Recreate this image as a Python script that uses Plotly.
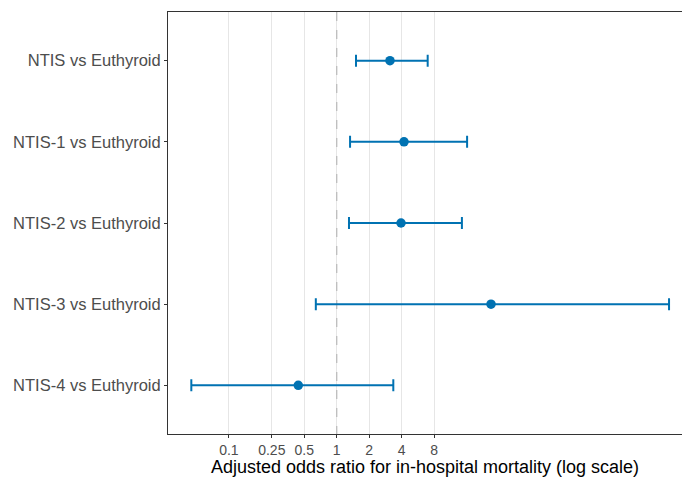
import plotly.graph_objects as go

comparisons = ["NTIS vs Euthyroid", "NTIS-1 vs Euthyroid", "NTIS-2 vs Euthyroid",
               "NTIS-3 vs Euthyroid", "NTIS-4 vs Euthyroid"]
odds_ratio = [3.12, 4.21, 3.95, 27.0, 0.44]
ci_low = [1.51, 1.33, 1.30, 0.64, 0.0448]
ci_high = [6.98, 16.2, 14.5, 1210.0, 3.35]
tick_vals = [0.1, 0.25, 0.5, 1, 2, 4, 8]
tick_text = ["0.1", "0.25", "0.5", "1", "2", "4", "8"]

ypos = list(range(1, len(comparisons) + 1))
color = "#0072B2"

fig = go.Figure()
# reference line at OR = 1
fig.add_trace(go.Scatter(x=[1, 1], y=[0.4, 5.6], mode="lines",
                         line=dict(color="#BDBDBD", width=1.3, dash="dash"),
                         hoverinfo="skip", showlegend=False))
fig.add_trace(go.Scatter(
    x=odds_ratio, y=ypos, mode="markers",
    marker=dict(color=color, size=9.5),
    error_x=dict(type="data", symmetric=False,
                 array=[h - p for h, p in zip(ci_high, odds_ratio)],
                 arrayminus=[p - l for p, l in zip(odds_ratio, ci_low)],
                 color=color, thickness=2, width=6),
    showlegend=False))

fig.update_layout(
    width=682, height=477,
    margin=dict(l=168, r=0, t=12, b=43),
    plot_bgcolor="white", paper_bgcolor="white",
    font=dict(family="Liberation Sans, Arial, sans-serif", color="#4D4D4D", size=14),
    xaxis=dict(type="log", range=[-1.565, 3.203],
               tickvals=tick_vals, ticktext=tick_text,
               showgrid=True, gridcolor="#E6E6E6", gridwidth=1.2,
               zeroline=False, showline=True, linecolor="#333333", linewidth=1,
               mirror=True, ticks="outside", ticklen=3, tickcolor="#333333",
               tickfont=dict(size=14, color="#4D4D4D"), automargin=False,
               title=dict(text="Adjusted odds ratio for in-hospital mortality (log scale)",
                          font=dict(size=18, color="black"), standoff=2)),
    yaxis=dict(range=[5.6, 0.4], tickvals=ypos, ticktext=comparisons,
               showgrid=False, zeroline=False, showline=True, linecolor="#333333",
               linewidth=1, ticks="outside", ticklen=3, tickcolor="#333333",
               tickfont=dict(size=16.5, color="#4D4D4D"), automargin=False),
)

fig.write_html("out.html")
